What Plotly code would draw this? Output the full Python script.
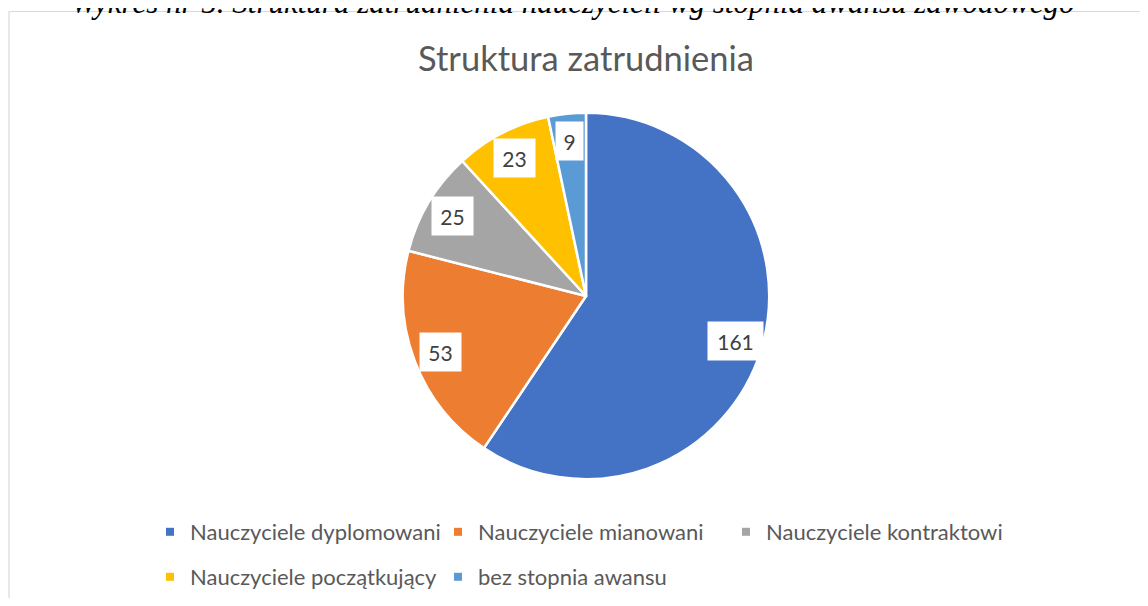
import math
import plotly.graph_objects as go

# ---- data ----
categories = [
    "Nauczyciele dyplomowani",
    "Nauczyciele mianowani",
    "Nauczyciele kontraktowi",
    "Nauczyciele początkujący",
    "bez stopnia awansu",
]
values = [161, 53, 25, 23, 9]
colors = ["#4472C4", "#ED7D31", "#A5A5A5", "#FFC000", "#5B9BD5"]
chart_title = "Struktura zatrudnienia"
caption = "Wykres nr 5. Struktura zatrudnienia nauczycieli wg stopnia awansu zawodowego"

# ---- layout constants (page pixels; the page body has an 8px margin) ----
OFF = 8
W, H = 1148 - OFF, 606 - 2 * OFF


def px_x(x):
    return (x - OFF) / W


def px_y(y):
    return 1 - (y - OFF) / H


CX, CY, R = 586, 296.5, 183.5
FONT = "Lato, 'Open Sans', sans-serif"

fig = go.Figure()

fig.add_trace(go.Pie(
    labels=categories,
    values=values,
    sort=False,
    direction="clockwise",
    rotation=0,
    marker=dict(colors=colors, line=dict(color="white", width=2.5)),
    textinfo="none",
    hoverinfo="label+value",
    showlegend=False,
    domain=dict(x=[px_x(CX - R), px_x(CX + R)],
                y=[px_y(CY + R), px_y(CY - R)]),
))

# legend entries (Excel-style small squares, two rows)
for i, (cat, col) in enumerate(zip(categories, colors)):
    fig.add_trace(go.Scatter(
        x=[None], y=[None], mode="markers",
        marker=dict(symbol="square", size=8, color=col),
        name=cat, hoverinfo="skip",
        legend="legend" if i < 3 else "legend2",
    ))

# data labels in white boxes
total = sum(values)
cum = 0
annotations = []
for v in values:
    mid = (cum + v / 2) / total * 2 * math.pi
    cum += v
    k = 0.85
    lx = CX + k * R * math.sin(mid)
    ly = CY - k * R * math.cos(mid)
    txt = str(v)
    annotations.append(dict(
        x=px_x(lx), y=px_y(ly), xref="paper", yref="paper",
        text=txt, showarrow=False, xanchor="center", yanchor="middle",
        font=dict(family=FONT, size=21, color="#404040"),
        bgcolor="white", borderpad=4, width=14 * len(txt) + 5, height=30,
    ))

annotations.append(dict(
    x=px_x(572), y=px_y(2), xref="paper", yref="paper",
    text=caption, showarrow=False, xanchor="center", yanchor="middle",
    font=dict(family="'Liberation Serif', 'Times New Roman', serif", size=31,
              color="black", style="italic"),
))

legend_common = dict(
    orientation="h", entrywidth=243, entrywidthmode="pixels",
    font=dict(family=FONT, size=22, color="#595959"),
    bgcolor="rgba(0,0,0,0)", xanchor="left", yanchor="middle",
    itemclick=False, itemdoubleclick=False,
)

frame_line = dict(color="#D9D9D9", width=1.2)

fig.update_layout(
    width=W, height=H,
    margin=dict(l=0, r=0, t=0, b=0),
    paper_bgcolor="white", plot_bgcolor="white",
    title=dict(text=chart_title, x=px_x(CX), xanchor="center", y=px_y(59), yanchor="middle",
               font=dict(family=FONT, size=34.5, color="#595959")),
    xaxis=dict(visible=False), yaxis=dict(visible=False),
    legend=dict(x=px_x(150), y=px_y(532), **legend_common),
    legend2=dict(x=px_x(150), y=px_y(578), **legend_common),
    annotations=annotations,
    shapes=[
        dict(type="line", xref="paper", yref="paper",
             x0=px_x(9), x1=px_x(9), y0=-0.05, y1=px_y(11.5), line=frame_line, layer="below"),
        dict(type="line", xref="paper", yref="paper",
             x0=px_x(9), x1=1.05, y0=px_y(11.5), y1=px_y(11.5), line=frame_line, layer="below"),
    ],
)

fig.write_html("out.html")
